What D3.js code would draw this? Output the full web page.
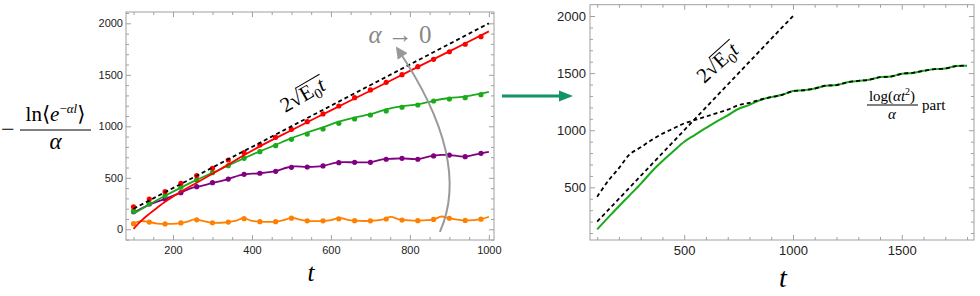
<!DOCTYPE html>
<html>
<head>
<meta charset="utf-8">
<script src="https://d3js.org/d3.v7.min.js"></script>
<style>
  body { margin: 0; background: #fff; }
  .tick text { font-family: "Liberation Sans", Arial, sans-serif; fill: #222; }
  .tick line { stroke: #a0a0a0; }
  .domain { display: none; }
  text.math, .math text { font-family: "Liberation Serif", "DejaVu Serif", serif; }
</style>
</head>
<body>
<svg width="980" height="296"></svg>
<script>
// ---- left panel data ----
const dotT = [100,140,180,220,260,300,340,380,420,460,500,540,580,620,660,700,740,780,820,860,900,940,980];
const redDots    = [219,294,365,447,521,592,673,744,819,893,971,1045,1120,1197,1278,1353,1427,1501,1579,1650,1724,1797,1870];
const greenDots  = [178,252,326,408,479,550,618,689,754,812,874,925,974,1029,1071,1110,1149,1185,1207,1246,1265,1278,1307];
const purpleDots = [171,246,294,356,414,453,488,534,544,563,602,605,615,647,650,650,680,689,680,712,721,705,738];
const orangeDots = [55,70,52,62,92,63,70,103,74,74,108,82,82,102,84,82,100,90,84,96,107,86,98];

const redLine = [[100,5],[120,85],[140,150],[160,210],[180,268],[200,318],[220,365],[260,452],[300,540],[340,628],
  [380,720],[420,805],[460,885],[500,962],[600,1155],[700,1345],[800,1538],[900,1728],[1000,1922]];
const greenLine = [[100,150],[140,240],[180,325],[220,405],[260,480],[300,548],[340,620],[380,690],[420,757],[460,820],
  [500,885],[540,940],[580,990],[620,1045],[660,1085],[700,1118],[740,1165],[780,1195],[820,1212],[860,1248],
  [900,1275],[940,1288],[980,1318],[1000,1335]];
const purpleLine = [[100,160],[140,240],[180,295],[220,356],[250,405],[270,420],[300,450],[340,488],[365,520],[380,534],
  [420,544],[460,565],[490,600],[510,610],[540,605],[580,615],[610,645],[630,652],[660,650],[700,652],[730,678],
  [750,684],[780,689],[820,682],[850,708],[880,722],[900,721],[940,706],[980,738],[1000,752]];
const orangeLine = [[100,58],[118,80],[140,70],[160,56],[180,52],[210,56],[235,72],[255,97],[275,82],[300,63],[340,70],
  [360,84],[378,107],[398,84],[420,74],[460,74],[480,88],[500,113],[520,94],[540,82],[580,82],[600,90],[622,110],
  [642,92],[660,84],[700,82],[730,95],[752,120],[772,97],[800,86],[820,84],[860,96],[880,124],[900,107],[940,86],
  [980,98],[1000,122]];
const sqrtLine = [[100,200],[1000,2000]];

// ---- right panel data ----
const rightT = [100,150,200,250,300,350,400,450,500,550,600,650,700,750,800,850,900,950,1000,1050,1100,1150,1200,
  1250,1300,1350,1400,1450,1500,1550,1600,1650,1700,1750,1800];
const greenRight = [132,235,335,432,530,637,730,815,899,960,1020,1078,1130,1188,1222,1265,1290,1310,1343,1350,1365,
  1390,1395,1420,1432,1442,1465,1470,1495,1502,1520,1535,1540,1562,1565];
const logPartEarly = [418,555,668,790,850,915,970,1015,1060,1090,1120,1150,1180,1220,1240,1268,1290];

const leftXTicks = [200,400,600,800,1000];
const leftYTicks = [0,500,1000,1500,2000];
const rightXTicks = [500,1000,1500];
const rightYTicks = [500,1000,1500,2000];

const svg = d3.select('svg');
const serif = '"Liberation Serif", "DejaVu Serif", serif';
const frameColor = '#a0a0a0';
const colors = { red: '#ff0000', green: '#1aaa1a', purple: '#800080', orange: '#ff8000' };

const lx = d3.scaleLinear().domain([81, 1013]).range([126, 494]);
const ly = d3.scaleLinear().domain([-104, 2110]).range([240, 12]);
const rx = d3.scaleLinear().domain([67, 1832]).range([590, 974]);
const ry = d3.scaleLinear().domain([39, 2099]).range([240, 4.7]);

function frame(x, y, xTicks, yTicks, xMinor, yMinor, fontSize, xPad, yPad) {
  const [x0, x1] = x.range(), [y0, y1] = y.range();
  const g = svg.append('g');
  const add = (axis, tr, vals, size, pad) => {
    const a = g.append('g').attr('transform', tr)
      .call(axis.tickValues(vals).tickSize(size).tickPadding(pad).tickFormat(pad ? d3.format('d') : ''));
    a.selectAll('text').style('font-size', fontSize + 'px');
  };
  add(d3.axisBottom(x), `translate(0,${y0})`, xTicks, -5, xPad);
  add(d3.axisBottom(x), `translate(0,${y0})`, xMinor, -3, 0);
  add(d3.axisTop(x), `translate(0,${y1})`, xTicks, -5, 0);
  add(d3.axisTop(x), `translate(0,${y1})`, xMinor, -3, 0);
  add(d3.axisLeft(y), `translate(${x0},0)`, yTicks, -5, yPad);
  add(d3.axisLeft(y), `translate(${x0},0)`, yMinor, -3, 0);
  add(d3.axisRight(y), `translate(${x1},0)`, yTicks, -5, 0);
  add(d3.axisRight(y), `translate(${x1},0)`, yMinor, -3, 0);
  g.append('rect').attr('x', x0).attr('y', y1).attr('width', x1 - x0).attr('height', y0 - y1)
    .attr('fill', 'none').attr('stroke', frameColor);
}

const minor = (a, b, s) => { const r = []; for (let v = a; v <= b; v += s) r.push(v); return r; };
frame(lx, ly, leftXTicks, leftYTicks, minor(100, 1000, 50).filter(v => !leftXTicks.includes(v)),
  minor(-100, 2100, 100).filter(v => !leftYTicks.includes(v)), 11, 6, 3);
frame(rx, ry, rightXTicks, rightYTicks, minor(100, 1800, 100).filter(v => !rightXTicks.includes(v)),
  minor(100, 2000, 100).filter(v => !rightYTicks.includes(v)), 13, 6, 4);

// ---- left panel marks ----
const lineL = d3.line().x(d => lx(d[0])).y(d => ly(d[1])).curve(d3.curveCatmullRom);
const L = svg.append('g');
[[orangeLine, orangeDots, colors.orange], [purpleLine, purpleDots, colors.purple],
 [greenLine, greenDots, colors.green], [redLine, redDots, colors.red]].forEach(([ln, dots, c]) => {
  L.append('path').attr('d', lineL(ln)).attr('fill', 'none').attr('stroke', c).attr('stroke-width', 1.8);
  L.selectAll(null).data(dots).join('circle')
    .attr('cx', (d, i) => lx(dotT[i])).attr('cy', d => ly(d)).attr('r', 2.6).attr('fill', c);
});
L.append('path').attr('d', lineL(sqrtLine)).attr('fill', 'none').attr('stroke', '#000')
  .attr('stroke-width', 1.8).attr('stroke-dasharray', '4,3');

// gray arc arrow
svg.append('defs').append('marker').attr('id', 'head').attr('viewBox', '0 0 10 10')
  .attr('refX', 8).attr('refY', 5).attr('markerWidth', 6).attr('markerHeight', 6)
  .attr('markerUnits', 'strokeWidth').attr('orient', 'auto')
  .append('path').attr('d', 'M0,0 L10,5 L0,10 z').attr('fill', '#999');
svg.append('path')
  .attr('d', `M${lx(876)},${ly(-26)} Q${lx(958)},${ly(680)} ${lx(768)},${ly(1755)}`)
  .attr('fill', 'none').attr('stroke', '#999').attr('stroke-width', 2).attr('marker-end', 'url(#head)');

const alphaTxt = svg.append('text').attr('x', 400).attr('y', 43).attr('text-anchor', 'middle')
  .attr('fill', '#888').style('font-family', serif).style('font-size', '25px');
alphaTxt.append('tspan').style('font-style', 'italic').text('α');
alphaTxt.append('tspan').text(' → 0');

// ---- right panel marks ----
const lineR = d3.line().x(d => rx(d[0])).y(d => ry(d[1])).curve(d3.curveCatmullRom);
const greenRightPts = rightT.map((t, i) => [t, greenRight[i]]);
const logPartPts = rightT.map((t, i) => [t, i < logPartEarly.length ? logPartEarly[i] : greenRight[i]]);
svg.append('path').attr('d', lineR(greenRightPts)).attr('fill', 'none').attr('stroke', colors.green).attr('stroke-width', 2);
svg.append('path').attr('d', lineR(logPartPts)).attr('fill', 'none').attr('stroke', '#000')
  .attr('stroke-width', 1.8).attr('stroke-dasharray', '4,3');
svg.append('path').attr('d', lineR(sqrtLine)).attr('fill', 'none').attr('stroke', '#000')
  .attr('stroke-width', 1.8).attr('stroke-dasharray', '4,3');

// ---- labels ----
function radical(cx, cy, angle, size) {
  const g = svg.append('g').attr('transform', `translate(${cx},${cy}) rotate(${angle})`);
  const t = g.append('text').attr('text-anchor', 'middle')
    .style('font-family', serif).style('font-size', size + 'px');
  t.append('tspan').text('2');
  t.append('tspan').text('√');
  t.append('tspan').text('E');
  t.append('tspan').attr('dy', size * 0.22).style('font-size', (size * 0.7) + 'px').text('0');
  t.append('tspan').attr('dy', -size * 0.22).style('font-style', 'italic').text('t');
  const n = t.node();
  const sx = n.getEndPositionOfChar(1).x - 1;
  const ex = n.getEndPositionOfChar(4).x + 1;
  g.append('line').attr('x1', sx).attr('x2', ex).attr('y1', -size * 0.78).attr('y2', -size * 0.78)
    .attr('stroke', '#000').attr('stroke-width', 1);
}
radical(306, 101, -30, 21);
radical(722, 68, -42, 21);

// y label of left panel
const ylab = svg.append('g').style('font-family', serif);
ylab.append('text').attr('x', 1).attr('y', 137).style('font-size', '24px').text('−');
ylab.append('line').attr('x1', 20).attr('x2', 91).attr('y1', 130).attr('y2', 130).attr('stroke', '#000');
const num = ylab.append('text').attr('x', 55.5).attr('y', 121).attr('text-anchor', 'middle').style('font-size', '21px');
num.append('tspan').text('ln⟨');
num.append('tspan').style('font-style', 'italic').text('e');
num.append('tspan').attr('dy', -8).style('font-size', '13px').text('−');
num.append('tspan').style('font-size', '13px').style('font-style', 'italic').text('αl');
num.append('tspan').attr('dy', 8).text('⟩');
ylab.append('text').attr('x', 55.5).attr('y', 149).attr('text-anchor', 'middle')
  .style('font-size', '23px').style('font-style', 'italic').text('α');

// axis labels t
svg.append('text').attr('x', 311).attr('y', 281).attr('text-anchor', 'middle').style('font-family', serif)
  .style('font-size', '25px').style('font-style', 'italic').text('t');
svg.append('text').attr('x', 783).attr('y', 287).attr('text-anchor', 'middle').style('font-family', serif)
  .style('font-size', '28px').style('font-style', 'italic').text('t');

// log part label
const lp = svg.append('g').style('font-family', serif);
const lpn = lp.append('text').attr('x', 892).attr('y', 101).attr('text-anchor', 'middle').style('font-size', '15px');
lpn.append('tspan').text('log(');
lpn.append('tspan').style('font-style', 'italic').text('αt');
lpn.append('tspan').attr('dy', -6).style('font-size', '10px').text('2');
lpn.append('tspan').attr('dy', 6).text(')');
lp.append('line').attr('x1', 867).attr('x2', 918).attr('y1', 105).attr('y2', 105).attr('stroke', '#000');
lp.append('text').attr('x', 892).attr('y', 119).attr('text-anchor', 'middle')
  .style('font-size', '15px').style('font-style', 'italic').text('α');
lp.append('text').attr('x', 922).attr('y', 110).style('font-size', '15px').text('part');

// green arrow between panels
const arrowColor = '#139463';
svg.append('line').attr('x1', 502).attr('x2', 561).attr('y1', 96).attr('y2', 96)
  .attr('stroke', arrowColor).attr('stroke-width', 3);
svg.append('path').attr('d', 'M559,90.5 L573,96 L559,101.5 Z').attr('fill', arrowColor);
</script>
</body>
</html>
